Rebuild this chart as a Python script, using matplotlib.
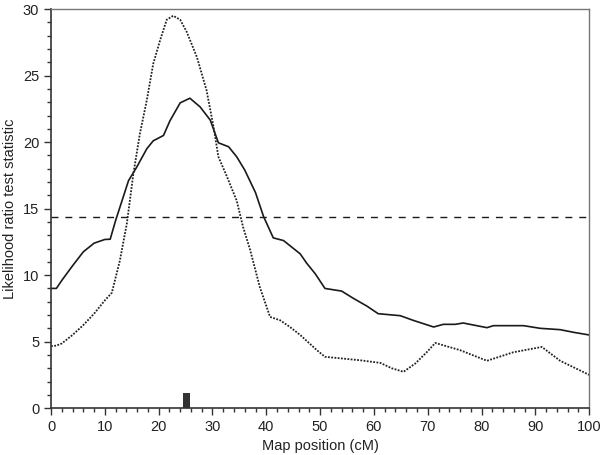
import numpy as np
import matplotlib
matplotlib.use("Agg")
from matplotlib import pyplot as plt
from matplotlib.ticker import MultipleLocator

# solid curve
pos_solid = [0, 1, 2, 4, 6, 8, 10, 11, 12, 14.4, 15.9, 17.8, 19, 20.9, 22.1, 24, 25.8,
             27.7, 29.6, 31.1, 33, 34.5, 36, 38, 39.5, 41.3, 43.2, 46.3, 47.5, 49.1,
             50.9, 54, 56.2, 58.7, 60.8, 64.9, 67.3, 71.1, 72.9, 75.1, 76.6, 79.1,
             81, 82.2, 87.8, 90.9, 94.6, 97.1, 100]
lrt_solid = [9.0, 9.0, 9.6, 10.7, 11.75, 12.4, 12.68, 12.7, 14.1, 17.1, 18.1, 19.5,
             20.1, 20.5, 21.6, 22.95, 23.3, 22.65, 21.65, 19.95, 19.65, 18.9, 17.9,
             16.2, 14.4, 12.8, 12.6, 11.6, 10.9, 10.1, 9.0, 8.8, 8.25, 7.67, 7.1,
             6.95, 6.6, 6.1, 6.3, 6.3, 6.4, 6.2, 6.05, 6.2, 6.2, 6.0, 5.9, 5.7, 5.5]

# dotted curve
pos_dot = [0, 1, 2, 4, 6, 8, 10, 11.3, 12.8, 14.1, 15.3, 16.5, 17.8, 19, 20.3, 21.5,
           22.7, 24, 25.2, 27.1, 28.9, 30.2, 31.1, 32.7, 34.5, 35.7, 37, 38.8, 40.7,
           42.6, 44.4, 46.3, 49.4, 50.9, 57.4, 61.2, 63.3, 65.5, 67.7, 69.8, 71.4,
           76, 81, 85.9, 91.2, 94.6, 100]
lrt_dot = [4.66, 4.7, 4.86, 5.5, 6.24, 7.1, 8.1, 8.67, 11.1, 13.9, 17.6, 20.6, 23.15,
           25.9, 27.7, 29.2, 29.5, 29.2, 28.3, 26.4, 23.9, 21.15, 18.9, 17.4, 15.6,
           13.6, 11.9, 9.1, 6.86, 6.6, 6.1, 5.5, 4.36, 3.86, 3.6, 3.4, 3.0, 2.73,
           3.36, 4.2, 4.9, 4.36, 3.56, 4.2, 4.6, 3.56, 2.5]

threshold = 14.4
marker_pos = 25.2
marker_height = 1.15

plt.rcParams['font.family'] = ['Liberation Sans', 'DejaVu Sans']

fig = plt.figure(figsize=(6, 4.55), dpi=100)
ax = fig.add_axes([0.085, 0.103, 0.897, 0.877])

ax.plot(pos_solid, lrt_solid, color='#1a1a1a', lw=1.2)
ax.plot(pos_dot, lrt_dot, color='#222222', lw=1.3, linestyle=(0, (1, 0.8)))
ax.axhline(threshold, color='#1a1a1a', lw=1.0, linestyle=(0, (5, 5)))
ax.bar([marker_pos], [marker_height], width=1.3, color='#333333')

ax.set_xlim(0, 100)
ax.set_ylim(0, 30)
ax.xaxis.set_major_locator(MultipleLocator(10))
ax.xaxis.set_minor_locator(MultipleLocator(2))
ax.yaxis.set_major_locator(MultipleLocator(5))
ax.yaxis.set_minor_locator(MultipleLocator(1))
ax.tick_params(which='both', direction='out', top=False, right=False,
               color='#333333', labelsize=10.5, labelcolor='#222222')
ax.tick_params(which='major', length=5, width=1)
ax.tick_params(which='minor', length=3, width=1)

for s in ['left', 'bottom']:
    ax.spines[s].set_color('#333333')
    ax.spines[s].set_linewidth(1.2)
for s in ['top', 'right']:
    ax.spines[s].set_color('#777777')
    ax.spines[s].set_linewidth(1.0)

ax.set_xlabel('Map position (cM)', fontsize=10.5, color='#222222', labelpad=4)
ax.set_ylabel('Likelihood ratio test statistic', fontsize=10.5, color='#222222', labelpad=4)

fig.savefig('out.png', dpi=100)
